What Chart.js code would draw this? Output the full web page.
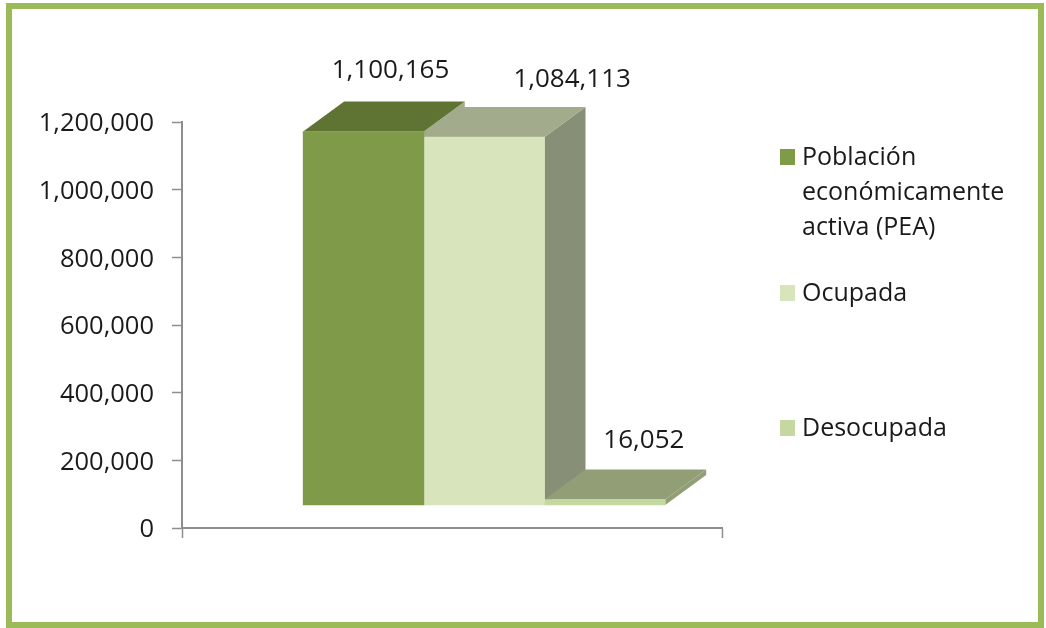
<!DOCTYPE html>
<html lang="es">
  <head>
    <meta charset="UTF-8" />
    <title>Chart</title>
    <style>
      html, body { margin: 0; padding: 0; background: #fff; }
      #wrap { position: relative; width: 1046px; height: 628px; overflow: hidden; }
      #frame { position: absolute; left: 6px; top: 3px; width: 1026px; height: 613px; border: 6px solid #9bbb59; }
    </style>
    <script src="https://cdn.jsdelivr.net/npm/chart.js"></script>
  </head>
  <body>
    <div id="wrap">
      <div id="frame"></div>
      <canvas id="myChart" width="1046" height="628" style="position:absolute;left:0;top:0"></canvas>
    </div>

    <script>
      // values
      const seriesNames = ["Población económicamente activa (PEA)", "Ocupada", "Desocupada"];
      const seriesValues = [1100165, 1084113, 16052];
      const seriesSlots = [0, 1, 2];
      const yTickStep = 200000;
      const yTickMax = 1200000;

      const legendLines = [["Población", "económicamente", "activa (PEA)"], ["Ocupada"], ["Desocupada"]];
      const legendRows = [157, 293, 428];
      const labelOffsets = [[27, -61], [88, -57], [39, -59]];

      const frontColors = ["#7f9a48", "#d7e4bc", "#c6d8a2"];
      const topColors = ["#5f7432", "#a2ac8c", "#929f76"];
      const sideColors = ["#a2ac8c", "#878f77", "#929f76"];

      const depthX = 41;
      const depthY = 30;
      const font = "'Open Sans', sans-serif";
      const textColor = "#1a1a1a";
      const fmt = v => v.toLocaleString("en-US");

      function face(ctx, pts, color) {
        ctx.fillStyle = color;
        ctx.beginPath();
        pts.forEach((p, i) => (i ? ctx.lineTo(p[0], p[1]) : ctx.moveTo(p[0], p[1])));
        ctx.closePath();
        ctx.fill();
      }

      // top and side faces of the bars, taken from the bar elements
      const depthFaces = {
        id: "depthFaces",
        beforeDatasetsDraw(chart) {
          const ctx = chart.ctx;
          ctx.save();
          seriesValues.forEach((v, i) => {
            const bar = chart.getDatasetMeta(i).data[0];
            const l = bar.x - bar.width / 2;
            const r = bar.x + bar.width / 2;
            face(ctx, [[r, bar.y], [r + depthX, bar.y - depthY], [r + depthX, bar.base - depthY], [r, bar.base]], sideColors[i]);
            face(ctx, [[l, bar.y], [r, bar.y], [r + depthX, bar.y - depthY], [l + depthX, bar.y - depthY]], topColors[i]);
          });
          ctx.restore();
        }
      };

      const barLabels = {
        id: "barLabels",
        afterDatasetsDraw(chart) {
          const ctx = chart.ctx;
          ctx.save();
          ctx.font = "26px " + font;
          ctx.fillStyle = textColor;
          ctx.textAlign = "center";
          ctx.textBaseline = "middle";
          seriesValues.forEach((v, i) => {
            const bar = chart.getDatasetMeta(i).data[0];
            ctx.fillText(fmt(v), bar.x + labelOffsets[i][0], bar.y + labelOffsets[i][1]);
          });
          ctx.restore();
        }
      };

      // y labels sit a little lower than the built in ones, so they are drawn here
      const yLabels = {
        id: "yLabels",
        afterDraw(chart) {
          const ctx = chart.ctx;
          const scale = chart.scales.y;
          ctx.save();
          ctx.font = "25.5px " + font;
          ctx.fillStyle = textColor;
          ctx.textAlign = "right";
          ctx.textBaseline = "middle";
          scale.ticks.forEach((t, i) => ctx.fillText(t.label, 154, scale.getPixelForTick(i) + 2));
          ctx.restore();
        }
      };

      const sideLegend = {
        id: "sideLegend",
        afterDraw(chart) {
          const ctx = chart.ctx;
          ctx.save();
          ctx.font = "25px " + font;
          ctx.textBaseline = "middle";
          legendLines.forEach((lines, i) => {
            ctx.fillStyle = frontColors[i];
            ctx.fillRect(780, legendRows[i] - 8, 15, 16);
            ctx.fillStyle = textColor;
            lines.forEach((line, k) => ctx.fillText(line, 802, legendRows[i] + 1 + k * 35));
          });
          ctx.restore();
        }
      };

      const ctx = document.getElementById("myChart").getContext("2d");
      new Chart(ctx, {
        type: "bar",
        data: {
          datasets: seriesNames.map((name, i) => ({
            label: name,
            data: [{ x: seriesSlots[i], y: seriesValues[i] }],
            backgroundColor: frontColors[i],
            yAxisID: "yBars",
            grouped: false,
            barThickness: 120.7
          }))
        },
        plugins: [depthFaces, barLabels, yLabels, sideLegend],
        options: {
          responsive: false,
          animation: false,
          layout: { padding: { left: 0, right: 324, top: 122, bottom: 0 } },
          plugins: { legend: { display: false }, tooltip: { enabled: false } },
          scales: {
            x: {
              type: "linear",
              offset: false,
              min: -1.504,
              max: 2.971,
              afterBuildTicks: s => { s.ticks = [{ value: s.min }, { value: s.max }]; },
              afterFit: s => { s.height = 100; },
              ticks: { callback: () => "", display: true, autoSkip: false },
              border: { color: "#8e8e8e", width: 2 },
              grid: { offset: false, drawOnChartArea: false, tickLength: 10, color: "#8e8e8e", tickWidth: 1.5 }
            },
            y: {
              min: 0,
              max: yTickMax,
              afterFit: s => { s.width = 182; },
              ticks: {
                display: false,
                stepSize: yTickStep,
                callback: v => fmt(v)
              },
              border: { color: "#8e8e8e", width: 2 },
              grid: { drawOnChartArea: false, tickLength: 10, color: "#8e8e8e", tickWidth: 1.5 }
            },
            // the bars stand in front of the axis, so their zero sits above the axis zero
            yBars: {
              display: false,
              min: -67750,
              max: 1128165
            }
          }
        }
      });
    </script>
  </body>
</html>
